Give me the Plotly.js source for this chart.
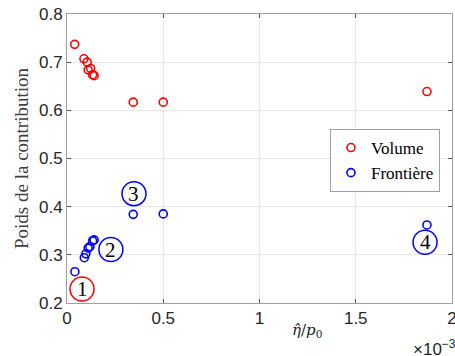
<!DOCTYPE html>
<html><head><meta charset="utf-8">
<script src="https://cdn.plot.ly/plotly-3.0.1.min.js"></script>
<style>html,body{margin:0;padding:0;background:#fff;}</style>
</head><body>
<div id="chart" style="width:455px;height:356px;"></div>
<script>
// eta_hat / p0 (x 1e-3)
const volumeX = [0.04, 0.088, 0.105, 0.123, 0.11, 0.133, 0.141, 0.344, 0.5, 1.87];
const volumeY = [0.737, 0.707, 0.700, 0.687, 0.684, 0.674, 0.672, 0.617, 0.617, 0.639];
const frontX = [0.041, 0.09, 0.098, 0.11, 0.119, 0.133, 0.141, 0.344, 0.5, 1.87];
const frontY = [0.265, 0.294, 0.302, 0.314, 0.317, 0.329, 0.331, 0.384, 0.385, 0.362];
const seriesNames = ["Volume", "Frontière"];
const labelTexts = ["1", "2", "3", "4"];
const labelX = [0.078, 0.228, 0.348, 1.86];
const labelY = [0.229, 0.311, 0.427, 0.326];
const labelColors = ["#ff0000", "#0000ff", "#0000ff", "#0000ff"];
const xTicks = [0, 0.5, 1, 1.5, 2];
const xTickText = ["0", "0.5", "1", "1.5", "2"];
const yTicks = [0.2, 0.3, 0.4, 0.5, 0.6, 0.7, 0.8];

const serif = "Liberation Serif, DejaVu Serif, serif";
const sans = "Liberation Sans, Arial, sans-serif";

const traces = [
  {x: volumeX, y: volumeY, name: seriesNames[0], type: "scatter", mode: "markers",
   marker: {symbol: "circle-open", size: 8, color: "#ff0000", line: {width: 1.6, color: "#ff0000"}}},
  {x: frontX, y: frontY, name: seriesNames[1], type: "scatter", mode: "markers",
   marker: {symbol: "circle-open", size: 8, color: "#0000ff", line: {width: 1.6, color: "#0000ff"}}}
];

const shapes = labelX.map((x, i) => ({
  type: "circle", xref: "x", yref: "y", xsizemode: "pixel", ysizemode: "pixel",
  xanchor: x, yanchor: labelY[i], x0: -12, x1: 12, y0: -12, y1: 12,
  line: {color: labelColors[i], width: 1.5}
}));

const annotations = labelX.map((x, i) => ({
  x: x, y: labelY[i], xref: "x", yref: "y", text: labelTexts[i], showarrow: false,
  font: {family: serif, size: 21, color: "#000"}, xanchor: "center", yanchor: "middle"
}));
annotations.push({
  xref: "paper", yref: "paper", x: 0.623, y: -0.095, xanchor: "center", yanchor: "middle",
  text: "<i>η̂</i>/<i>p</i><sub>0</sub>", showarrow: false,
  font: {family: "DejaVu Serif, serif", size: 15, color: "#222"}
});
annotations.push({
  xref: "paper", yref: "paper", x: 0.893, y: -0.11, xanchor: "left", yanchor: "top",
  text: "×10<sup>−3</sup>", showarrow: false,
  font: {family: sans, size: 17, color: "#262626"}
});

const layout = {
  width: 455, height: 356,
  margin: {l: 67, r: 3, t: 14, b: 53, pad: 0},
  paper_bgcolor: "#fff", plot_bgcolor: "#fff",
  showlegend: true,
  legend: {x: 0.683, y: 0.602, xanchor: "left", yanchor: "top", bgcolor: "#fff",
           bordercolor: "#a0a0a0", borderwidth: 1, font: {family: serif, size: 17, color: "#000"},
           itemwidth: 30, tracegroupgap: 0},
  xaxis: {range: [0, 2.0001], tickvals: xTicks, ticktext: xTickText, showgrid: true, gridcolor: "#e6e6e6",
          zeroline: false, showline: true, linecolor: "#a0a0a0", linewidth: 1, mirror: "ticks",
          ticks: "inside", ticklen: 4, tickcolor: "#555", ticklabeloverflow: "allow",
          tickfont: {family: sans, size: 17, color: "#262626"}},
  yaxis: {range: [0.2, 0.8], tickvals: yTicks, tickformat: ".1f", showgrid: true, gridcolor: "#e6e6e6",
          zeroline: false, showline: true, linecolor: "#a0a0a0", linewidth: 1, mirror: "ticks",
          ticks: "inside", ticklen: 4, tickcolor: "#555",
          tickfont: {family: sans, size: 17, color: "#262626"},
          title: {text: "Poids de la contribution", font: {family: serif, size: 19, color: "#404040"}, standoff: 5}},
  shapes: shapes,
  annotations: annotations
};

Plotly.newPlot("chart", traces, layout, {displayModeBar: false, staticPlot: true});
</script>
</body></html>
